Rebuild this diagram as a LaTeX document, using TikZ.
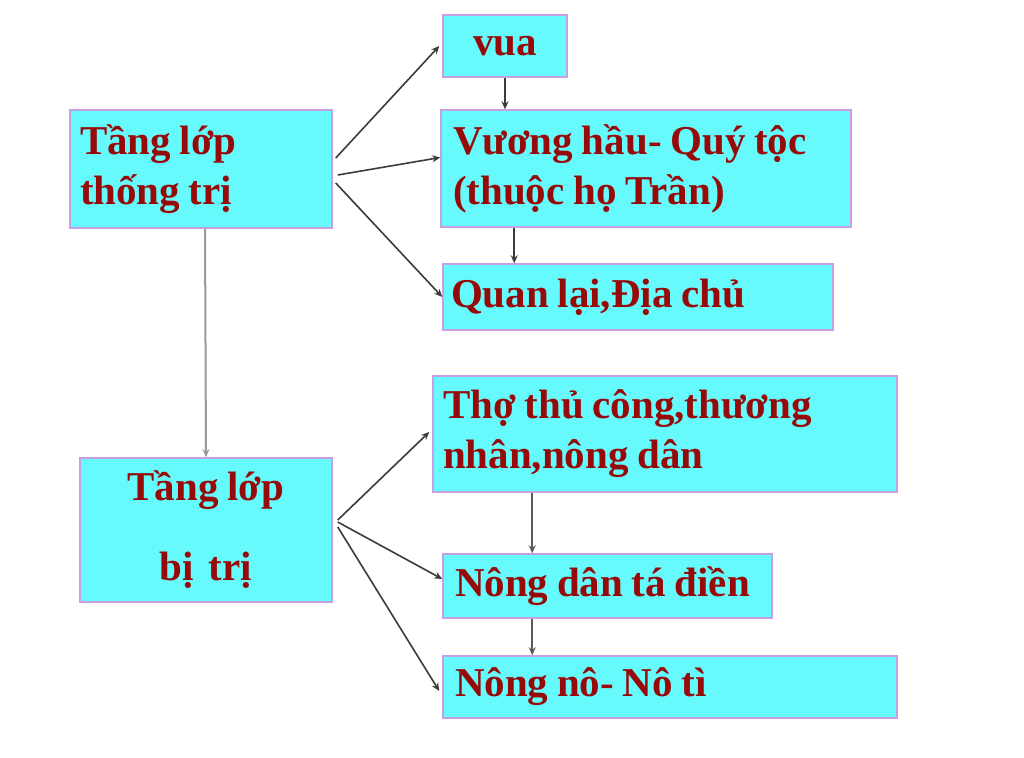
\documentclass[tikz,border=0pt]{standalone}
\usepackage{fontspec}
\setmainfont[WordSpace=0.85]{Liberation Serif}
\usetikzlibrary{arrows.meta}
\definecolor{boxfill}{RGB}{102,250,252}
\definecolor{boxline}{RGB}{200,160,225}
\definecolor{txt}{RGB}{150,10,10}
\definecolor{conn}{RGB}{60,60,60}
\tikzset{
  cbox/.style={draw=boxline,line width=1.5pt,fill=boxfill,inner sep=0pt,
    font=\fontsize{41}{50}\selectfont\bfseries,text=txt,align=flush left},
  conarrow/.style={draw=conn,line width=1.6pt,-{Stealth[length=8pt,width=7pt]}},
  grayline/.style={draw=gray!80,line width=2pt,-{Stealth[length=8pt,width=7pt]}}
}
\begin{document}
\begin{tikzpicture}[x=1pt,y=-1pt]
\useasboundingbox[fill=white] (0,0) rectangle (1024,757);
\node[cbox,minimum width=124pt,minimum height=62pt,align=center] (vua) at (505,46) {vua};
\node[cbox,minimum width=410pt,minimum height=117pt,text width=386pt] (vh) at (646,168.5) {Vương hầu- Quý tộc\\(thuộc họ Trần)};
\node[cbox,minimum width=390pt,minimum height=66pt,text width=374pt] (ql) at (638,297) {Quan lại,Địa chủ};
\node[cbox,minimum width=262pt,minimum height=118pt,text width=242pt] (tt) at (201,169) {Tầng lớp\\thống trị};
\node[cbox,minimum width=252pt,minimum height=144pt,align=center,font=\fontsize{41}{80}\selectfont\bfseries] (bt) at (206,530) {Tầng lớp\\bị\hspace{6pt} trị};
\node[cbox,minimum width=464pt,minimum height=116pt,text width=444pt] (tho) at (665,434) {Thợ thủ công,thương\\nhân,nông dân};
\node[cbox,minimum width=329pt,minimum height=64pt,text width=305pt] (nd) at (607.5,586) {Nông dân tá điền};
\node[cbox,minimum width=454pt,minimum height=62pt,text width=430pt] (nn) at (670,687) {Nông nô- Nô tì};

\draw[conarrow] ([xshift=3pt,yshift=11pt]tt.east) -- ([xshift=-3pt]vua.west);
\draw[conarrow] ([xshift=5pt,yshift=-6pt]tt.east) -- ([yshift=11pt]vh.west);
\draw[conarrow] ([xshift=3pt,yshift=-14pt]tt.east) -- (ql.west);
\draw[conarrow] (vua.south) -- (vua.south |- vh.north);
\draw[conarrow] ([xshift=74pt]vh.south west) -- ([xshift=72pt]ql.north west);
\draw[grayline] ([xshift=4pt]tt.south) -- (bt.north);
\draw[conarrow] ([xshift=5pt,yshift=10pt]bt.east) -- ([xshift=-3pt,yshift=2pt]tho.west);
\draw[conarrow] ([xshift=5pt,yshift=8pt]bt.east) -- ([yshift=7pt]nd.west);
\draw[conarrow] ([xshift=5pt,yshift=3pt]bt.east) -- ([xshift=-3pt,yshift=-4pt]nn.west);
\draw[conarrow,draw=gray!70!black] ([xshift=100pt]tho.south west) -- ([xshift=90pt]nd.north west);
\draw[conarrow,draw=gray!70!black] ([xshift=90pt]nd.south west) -- ([xshift=90pt]nn.north west);
\end{tikzpicture}
\end{document}
